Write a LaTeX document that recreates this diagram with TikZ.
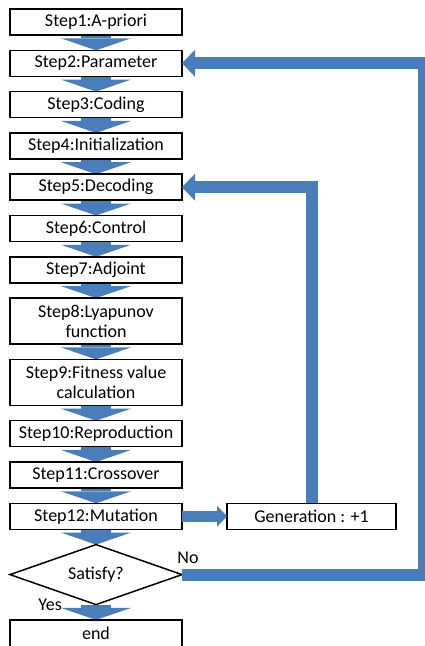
\documentclass[tikz,border=0pt]{standalone}
\usepackage{fontspec}
\setmainfont{Carlito}
\usetikzlibrary{arrows.meta,positioning,shapes.geometric,calc,backgrounds}
\definecolor{flowblue}{HTML}{4A7EBB}
\tikzset{
    stepbox/.style = {rectangle,
                    fill=white,
                    draw=black,
                    text=black,
                    line width=1.5pt,
                    minimum width=172pt,
                    minimum height=26pt,
                    inner sep=2pt,
                    outer sep=0pt,
                    align=center,
                    font=\fontsize{18pt}{20pt}\selectfont},
    tallbox/.style = {stepbox,
                    minimum height=46pt},
    decision/.style = {diamond,
                    fill=white,
                    draw=black,
                    text=black,
                    line width=1.5pt,
                    aspect=2.87,
                    minimum width=172pt,
                    minimum height=60pt,
                    inner sep=0pt,
                    outer sep=0pt,
                    font=\fontsize{18pt}{20pt}\selectfont},
    lbl/.style =    {inner sep=0pt,
                    font=\fontsize{18pt}{20pt}\selectfont},
    -,
    flow/.style =   {color=flowblue,
                    line width=30pt,
                    -{Triangle[width=70pt,length=12pt,line width=0pt,color=flowblue]}},
    side/.style =   {color=flowblue,
                    line width=11pt,
                    -{Triangle[width=21pt,length=10pt,line width=0pt,color=flowblue]}},
    back/.style =   {color=flowblue,
                    line width=12pt,
                    line join=miter,
                    -{Triangle[width=27pt,length=13pt,line width=0pt,color=flowblue]}},
    node distance=15.3pt}

\begin{document}
\begin{tikzpicture}
    \useasboundingbox (0,0) rectangle (425pt,-646pt);
    \node[stepbox]  (S1)  at (96pt,-22pt)   {Step1:A-priori};
    \node[stepbox]  (S2)  [below=of S1]     {Step2:Parameter};
    \node[stepbox]  (S3)  [below=of S2]     {Step3:Coding};
    \node[stepbox]  (S4)  [below=of S3]     {Step4:Initialization};
    \node[stepbox]  (S5)  [below=of S4]     {Step5:Decoding};
    \node[stepbox]  (S6)  [below=of S5]     {Step6:Control};
    \node[stepbox]  (S7)  [below=of S6]     {Step7:Adjoint};
    \node[tallbox]  (S8)  [below=of S7]     {Step8:Lyapunov\\function};
    \node[tallbox]  (S9)  [below=of S8]     {Step9:Fitness value\\calculation};
    \node[stepbox]  (S10) [below=of S9]     {Step10:Reproduction};
    \node[stepbox]  (S11) [below=of S10]    {Step11:Crossover};
    \node[stepbox]  (S12) [below=of S11]    {Step12:Mutation};
    \node[decision] (D)   [below=of S12]    {Satisfy?};
    \node[stepbox,minimum height=27pt] (E) [below=of D] {end};
    \node[stepbox,minimum width=169pt] (G) [right=45pt of S12] {Generation : +1};
    \node[lbl]      (No)  at ($(D.east)+(6pt,17pt)$)   {No};
    \node[lbl]      (Yes) [left=34pt of D.south]       {Yes};
    \coordinate     (R)   at ($(D.east)+(242pt,0)$);
    % block arrows down the column
    \begin{scope}[on background layer]
        \path [flow] (S1) edge (S2)
                     (S2) edge (S3)
                     (S3) edge (S4)
                     (S4) edge (S5)
                     (S5) edge (S6)
                     (S6) edge (S7)
                     (S7) edge (S8)
                     (S8) edge (S9)
                     (S9) edge (S10)
                     (S10) edge (S11)
                     (S11) edge (S12)
                     (S12) edge (D)
                     (D) edge (E);
    \end{scope}
    % loops back
    \draw [side] (S12) -- (G);
    \draw [back] (G.north) |- (S5.east);
    \draw [back] (D.east) -- (R) |- (S2.east);
\end{tikzpicture}
\end{document}
